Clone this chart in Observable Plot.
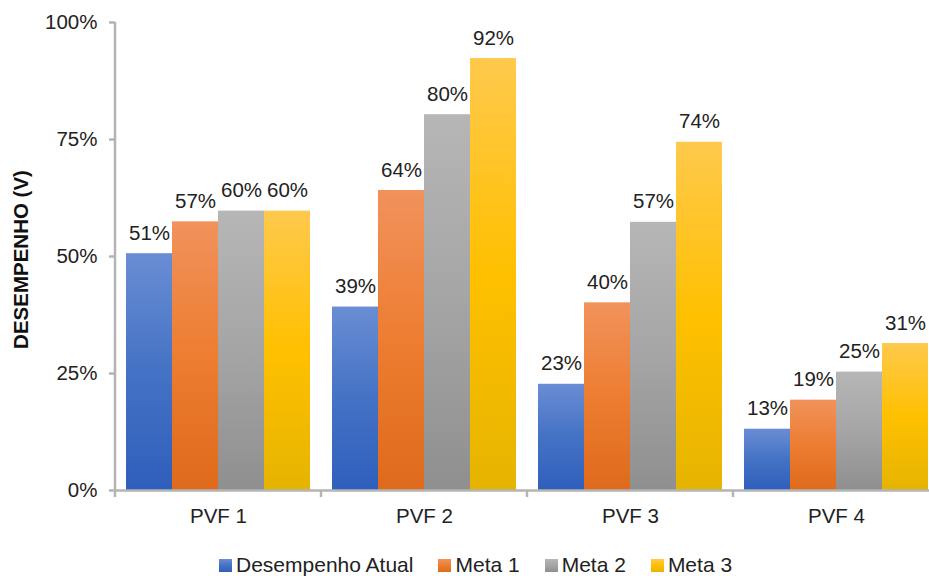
<!DOCTYPE html>
<html><head><meta charset="utf-8">
<script src="https://cdn.jsdelivr.net/npm/d3@7"></script>
<script src="https://cdn.jsdelivr.net/npm/@observablehq/plot@0.6"></script>
<style>
html,body{margin:0;background:#fff;overflow:hidden;font-family:"Liberation Sans",Arial,sans-serif;}
#legend{display:flex;justify-content:flex-start;gap:25px;font-size:21px;color:#222;margin-top:8px;padding-left:219px;line-height:24px;}
.item{display:flex;align-items:center;gap:4px}
.sw{width:13px;height:13px}
</style></head><body><div id="chart"></div><div id="legend"></div>
<script>
const categories = ["PVF 1", "PVF 2", "PVF 3", "PVF 4"];
const series = ["Desempenho Atual", "Meta 1", "Meta 2", "Meta 3"];
const desempenhoAtual = [50.6, 39.2, 22.7, 13.1];
const meta1 = [57.4, 64.1, 40.1, 19.3];
const meta2 = [59.7, 80.3, 57.3, 25.3];
const meta3 = [59.7, 92.3, 74.4, 31.4];
const yTicks = [0, 25, 50, 75, 100];
const yTitle = "DESEMPENHO (V)";
const gradientStops = [
  ["#6a8dd4", "#4472c4", "#2f5fbc"],
  ["#f1925c", "#ed7d31", "#df6a1b"],
  ["#b6b6b6", "#a5a5a5", "#8f8f8f"],
  ["#ffc94d", "#ffc000", "#e5b400"]
];

const seriesValues = [desempenhoAtual, meta1, meta2, meta3];
const data = [];
categories.forEach((c, i) => {
  seriesValues.forEach((arr, j) => data.push({category: c, series: series[j], value: arr[i]}));
});

const gradIds = series.map((s, i) => "grad" + i);

const defsMark = () => {
  const defs = d3.create("svg:defs");
  gradIds.forEach((id, i) => {
    const lg = defs.append("linearGradient").attr("id", id).attr("x1", 0).attr("y1", 0).attr("x2", 0).attr("y2", 1);
    gradientStops[i].forEach((c, k) => lg.append("stop").attr("offset", k / 2).attr("stop-color", c));
  });
  return defs.node();
};

const axisColor = "#b4b4b4";
const textColor = "#222";

const plot = Plot.plot({
  width: 929,
  height: 545,
  marginLeft: 114,
  marginRight: -10,
  marginTop: 22,
  marginBottom: 55,
  style: {fontFamily: "Liberation Sans, Arial, sans-serif", fontSize: "20.5px", color: textColor, background: "#fff", overflow: "hidden"},
  fx: {domain: categories, padding: 0, label: null},
  x: {domain: series, paddingInner: 0, paddingOuter: 0.2, axis: null},
  y: {domain: [0, 100]},
  color: {domain: series, range: gradIds.map(id => `url(#${id})`)},
  marks: [
    defsMark,
    Plot.barY(data, {fx: "category", x: "series", y: "value", fill: "series"}),
    Plot.ruleY([0], {stroke: axisColor, strokeWidth: 2.5}),
    Plot.text(data, {fx: "category", x: "series", y: "value", text: d => Math.round(d.value) + "%", dy: -14, lineAnchor: "bottom", fontSize: 20.5, fill: textColor}),
    Plot.axisY(yTicks, {tickFormat: d => d + "%", tickSize: 6, tickPadding: 12, stroke: axisColor, strokeWidth: 2.5, fill: textColor, fontSize: 20.5, label: null}),
    Plot.axisFx({anchor: "bottom", tickSize: 0, tickPadding: 18, fontSize: 20.5, fill: textColor, label: null}),
    Plot.text([yTitle], {fx: () => categories[0], frameAnchor: "left", textAnchor: "middle", dx: -94, dy: 3, rotate: -90, fontWeight: "bold", fontSize: 20.5, fill: "#111"})
  ]
});

document.getElementById("chart").appendChild(plot);

// axis lines using the plot's own scales
const fx = plot.scale("fx"), y = plot.scale("y");
const svg = d3.select(plot);
const g = svg.append("g").attr("stroke", axisColor).attr("stroke-width", 2.5);
const x0 = fx.apply(categories[0]);
g.append("line").attr("x1", x0).attr("x2", x0).attr("y1", y.apply(100)).attr("y2", y.apply(0));
const bounds = categories.map(c => fx.apply(c));
bounds.push(fx.apply(categories[categories.length - 1]) + fx.bandwidth);
bounds.forEach(b => g.append("line").attr("x1", b).attr("x2", b).attr("y1", y.apply(0)).attr("y2", y.apply(0) + 7));

// legend
const legend = d3.select("#legend");
series.forEach((s, i) => {
  const it = legend.append("div").attr("class", "item");
  it.append("div").attr("class", "sw").style("background", `linear-gradient(to bottom, ${gradientStops[i].join(",")})`);
  it.append("span").text(s);
});
</script>
</body></html>
